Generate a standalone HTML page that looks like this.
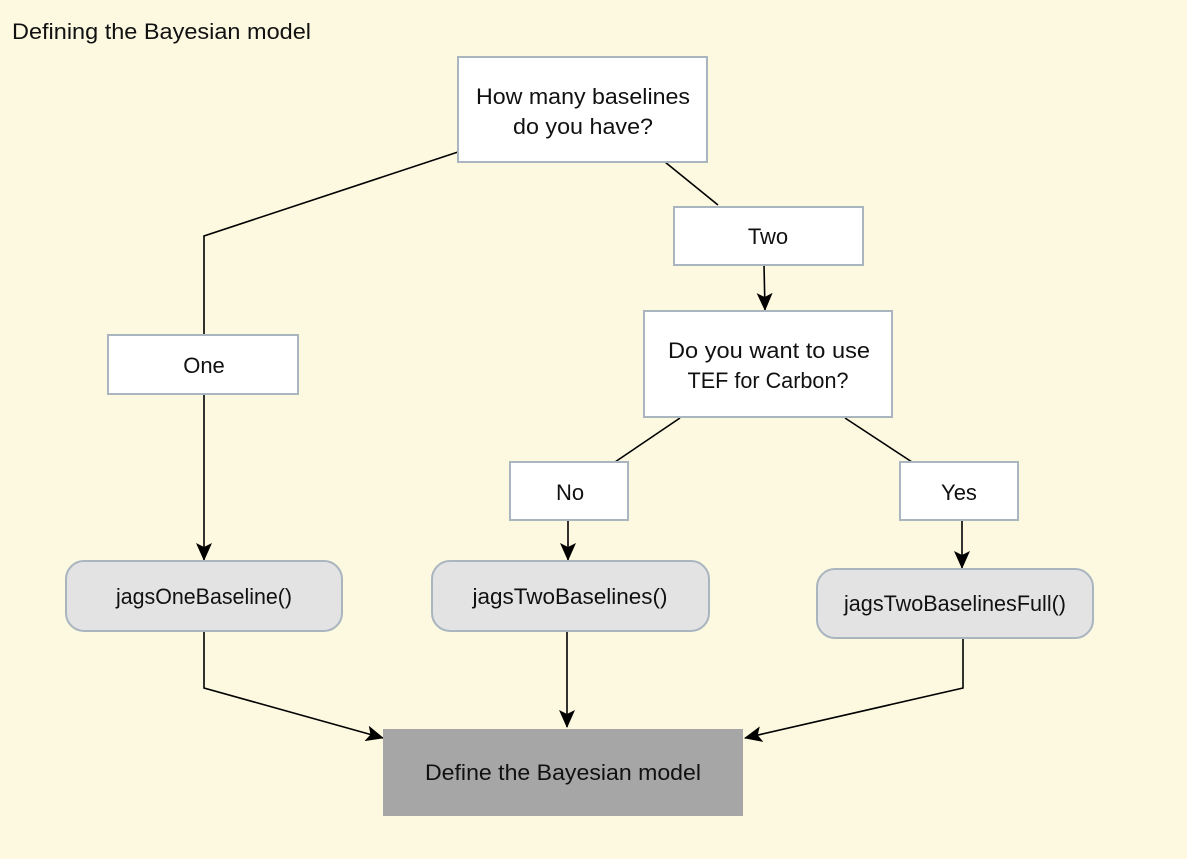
<!DOCTYPE html>
<html><head><meta charset="utf-8"><style>
html,body{margin:0;padding:0;background:#fcf9e0;}
svg{display:block;}
text{font-family:"Liberation Sans",sans-serif;font-size:22px;fill:#111;}
</style></head><body>
<svg width="1187" height="859" viewBox="0 0 1187 859">
<defs>
<marker id="b" markerWidth="18" markerHeight="16" refX="17" refY="8" orient="auto" markerUnits="userSpaceOnUse"><path d="M0,0 L18,8 L0,16 L4,8 z" fill="#000"/></marker></defs>
<rect width="1187" height="859" fill="#fcf9e0"/>
<text x="12" y="39" textLength="299" lengthAdjust="spacingAndGlyphs">Defining the Bayesian model</text>
<g stroke="#000" stroke-width="1.6" fill="none">
<polyline points="458,152 204,236 204,335"/>
<line x1="204" y1="394" x2="204" y2="560" marker-end="url(#b)"/>
<line x1="665" y1="162" x2="718" y2="205"/>
<line x1="764" y1="265" x2="765" y2="310" marker-end="url(#b)"/>
<line x1="680" y1="418" x2="615" y2="462"/>
<line x1="845" y1="418" x2="912" y2="462"/>
<line x1="568" y1="520" x2="568" y2="560" marker-end="url(#b)"/>
<line x1="962" y1="520" x2="962" y2="568" marker-end="url(#b)"/>
<polyline points="204,631 204,688 383,738" marker-end="url(#b)"/>
<line x1="567" y1="631" x2="567" y2="727" marker-end="url(#b)"/>
<polyline points="963,638 963,688 745,738" marker-end="url(#b)"/>
</g>
<g stroke="#a9b5bf" stroke-width="2" fill="#fff">
<rect x="458" y="57" width="249" height="105"/>
<rect x="674" y="207" width="189" height="58"/>
<rect x="644" y="311" width="248" height="106"/>
<rect x="108" y="335" width="190" height="59"/>
<rect x="510" y="462" width="118" height="58"/>
<rect x="900" y="462" width="118" height="58"/>
<rect x="66" y="561" width="276" height="70" rx="18" fill="#e3e3e3"/>
<rect x="432" y="561" width="277" height="70" rx="18" fill="#e3e3e3"/>
<rect x="817" y="569" width="276" height="69" rx="18" fill="#e3e3e3"/>
</g>
<rect x="383" y="729" width="360" height="87" fill="#a6a6a6"/>
<g text-anchor="middle">
<text x="583" y="104" textLength="214" lengthAdjust="spacingAndGlyphs">How many baselines</text>
<text x="583" y="134" textLength="140" lengthAdjust="spacingAndGlyphs">do you have?</text>
<text x="768" y="244">Two</text>
<text x="769" y="358" textLength="202" lengthAdjust="spacingAndGlyphs">Do you want to use</text>
<text x="768" y="388" textLength="161" lengthAdjust="spacingAndGlyphs">TEF for Carbon?</text>
<text x="204" y="373">One</text>
<text x="570" y="500">No</text>
<text x="959" y="500">Yes</text>
<text x="204" y="604" textLength="176" lengthAdjust="spacingAndGlyphs">jagsOneBaseline()</text>
<text x="570" y="604" textLength="195" lengthAdjust="spacingAndGlyphs">jagsTwoBaselines()</text>
<text x="955" y="611" textLength="222" lengthAdjust="spacingAndGlyphs">jagsTwoBaselinesFull()</text>
<text x="563" y="780" textLength="276" lengthAdjust="spacingAndGlyphs">Define the Bayesian model</text>
</g>
</svg>
</body></html>
